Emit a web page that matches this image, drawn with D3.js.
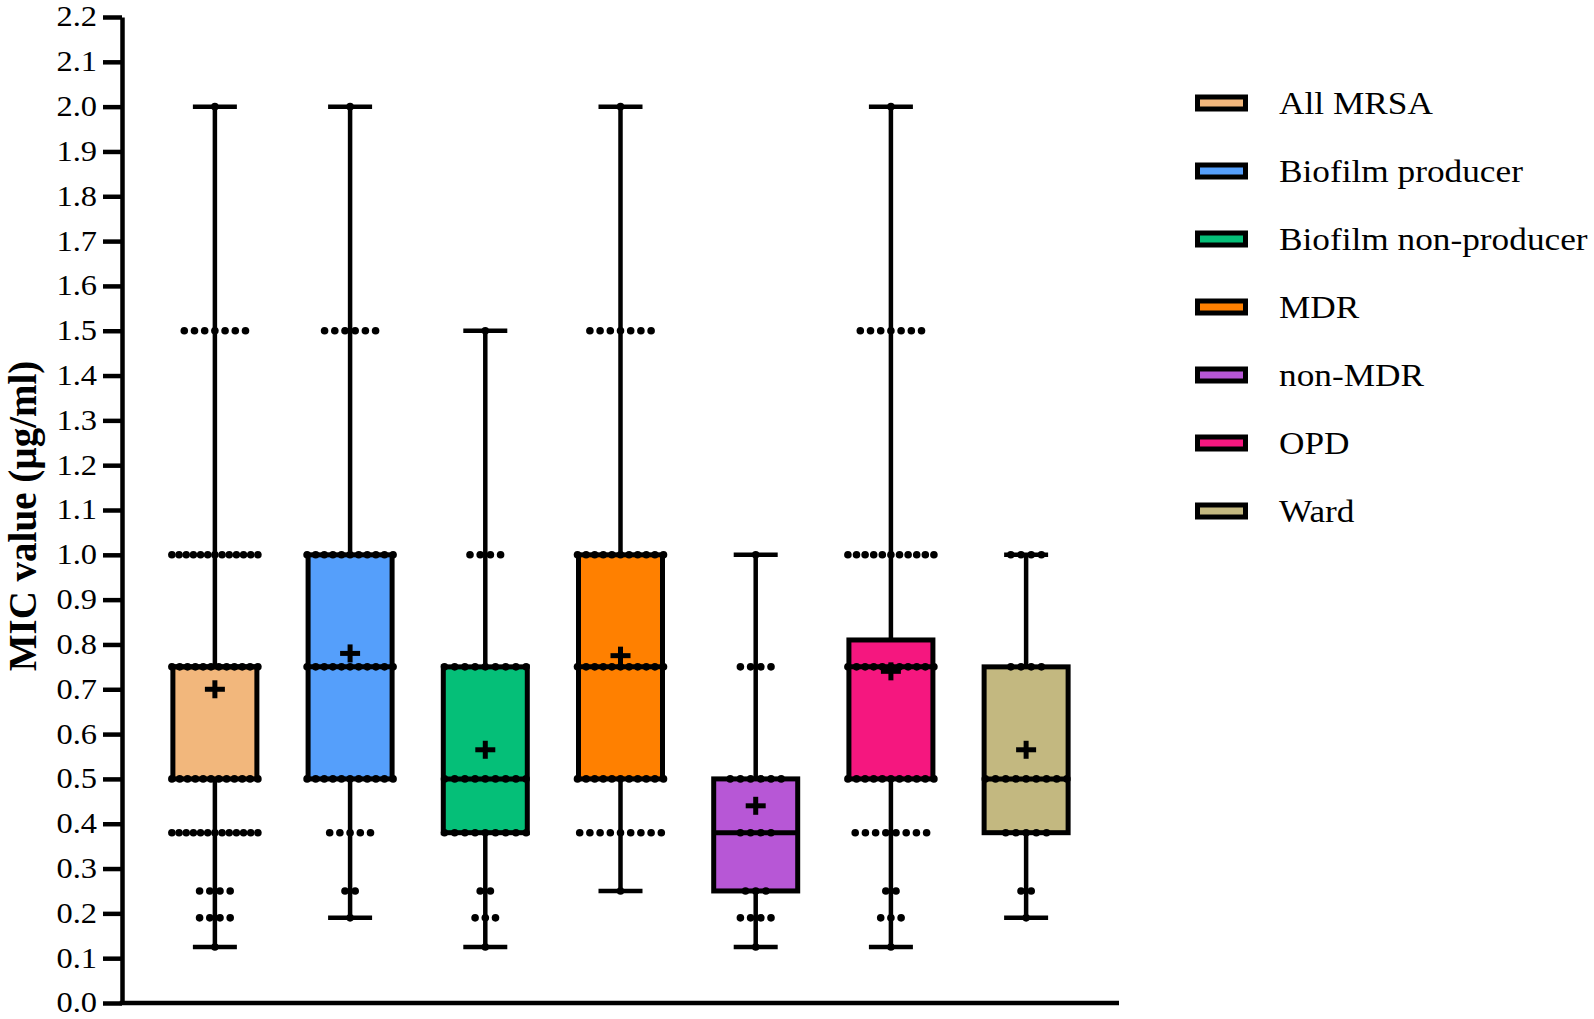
<!DOCTYPE html>
<html>
<head>
<meta charset="utf-8">
<script src="https://cdn.jsdelivr.net/npm/d3@7"></script>
<style>
  html, body { margin: 0; padding: 0; background: #fff; }
  svg { display: block; }
  text { font-family: "Liberation Serif", "Times New Roman", serif; fill: #000; }
</style>
</head>
<body>
<svg id="chart" width="1594" height="1019"></svg>
<script>
// ---------- data ----------
const categories = ["All MRSA", "Biofilm producer", "Biofilm non-producer", "MDR", "non-MDR", "OPD", "Ward"];
const colors = ["#F2B77C", "#559FFB", "#05BF78", "#FF8000", "#B757D6", "#F5177F", "#C3B880"];
const minVals    = [0.125, 0.19, 0.125, 0.25, 0.125, 0.125, 0.19];
const q1Vals     = [0.5,   0.5,  0.38,  0.5,  0.25,  0.5,   0.38];
const medianVals = [0.75,  0.75, 0.5,   0.75, 0.38,  0.75,  0.5];
const q3Vals     = [0.75,  1.0,  0.75,  1.0,  0.5,   0.81,  0.75];
const maxVals    = [2.0,   2.0,  1.5,   2.0,  1.0,   2.0,   1.0];
const meanVals   = [0.70,  0.78, 0.565, 0.775, 0.44, 0.74,  0.565];
// individual MIC levels and number of isolates plotted at each level
const micLevels = [0.125, 0.19, 0.25, 0.38, 0.5, 0.75, 1.0, 1.5, 2.0];
const countsAllMRSA   = [1, 4, 4, 13, 12, 12, 13, 7, 1];
const countsBioProd   = [0, 1, 2, 5, 11, 11, 11, 6, 1];
const countsBioNon    = [1, 3, 2, 9, 9, 9, 4, 1, 0];
const countsMDR       = [0, 0, 1, 9, 11, 11, 11, 7, 1];
const countsNonMDR    = [1, 4, 3, 4, 6, 4, 1, 0, 0];
const countsOPD       = [1, 3, 2, 8, 11, 11, 11, 7, 1];
const countsWard      = [0, 1, 2, 5, 9, 4, 4, 0, 0];
const pointCounts = [countsAllMRSA, countsBioProd, countsBioNon, countsMDR, countsNonMDR, countsOPD, countsWard];
const yTickValues = d3.range(0, 23).map(i => i / 10);
const yTitle = "MIC value (µg/ml)";

// ---------- layout ----------
const svg = d3.select("#chart");
const axisLeftX = 122, axisRightX = 1119, yTop = 17, yBottom = 1003;
const x = d3.scaleBand().domain(categories).range([axisLeftX, axisRightX]).paddingInner(0).paddingOuter(0.187);
const y = d3.scaleLinear().domain([0, 2.2]).range([yBottom, yTop]);
const cx = c => x(c) + x.bandwidth() / 2;
const boxHalf = 42, capHalf = 22, lw = 4.5, stretch = 1.12;

// y axis
const yAxis = svg.append("g").attr("transform", `translate(${axisLeftX},0)`)
  .call(d3.axisLeft(y).tickValues(yTickValues).tickSize(19).tickSizeOuter(0).tickPadding(6).tickFormat(d3.format(".1f")));
yAxis.select(".domain").attr("stroke", "#000").attr("stroke-width", lw);
yAxis.selectAll(".tick line").attr("stroke", "#000").attr("stroke-width", lw);
yAxis.selectAll(".tick text")
  .attr("x", 0)
  .attr("dy", "0.31em")
  .attr("transform", `translate(-25,0) scale(${stretch},1)`)
  .style("font-family", "Liberation Serif")
  .style("font-size", "29px");

// x axis line
svg.append("line")
  .attr("x1", axisLeftX - lw / 2).attr("x2", axisRightX)
  .attr("y1", y(0)).attr("y2", y(0))
  .attr("stroke", "#000").attr("stroke-width", lw);

// y title
svg.append("text")
  .attr("transform", `translate(36,${(y(0) + y(2.2)) / 2 + 6}) rotate(-90)`)
  .attr("text-anchor", "middle")
  .style("font-size", "39px").style("font-weight", "bold")
  .text(yTitle);

// ---------- boxes ----------
categories.forEach((c, i) => {
  const g = svg.append("g");
  const xc = cx(c);
  // whiskers
  g.append("line").attr("x1", xc).attr("x2", xc).attr("y1", y(minVals[i])).attr("y2", y(q1Vals[i]))
    .attr("stroke", "#000").attr("stroke-width", lw);
  g.append("line").attr("x1", xc).attr("x2", xc).attr("y1", y(q3Vals[i])).attr("y2", y(maxVals[i]))
    .attr("stroke", "#000").attr("stroke-width", lw);
  [minVals[i], maxVals[i]].forEach(v => {
    g.append("line").attr("x1", xc - capHalf).attr("x2", xc + capHalf).attr("y1", y(v)).attr("y2", y(v))
      .attr("stroke", "#000").attr("stroke-width", lw);
  });
  // box
  g.append("rect")
    .attr("x", xc - boxHalf).attr("width", boxHalf * 2)
    .attr("y", y(q3Vals[i])).attr("height", y(q1Vals[i]) - y(q3Vals[i]))
    .attr("fill", colors[i]).attr("stroke", "#000").attr("stroke-width", 5);
  // median
  g.append("line").attr("x1", xc - boxHalf).attr("x2", xc + boxHalf)
    .attr("y1", y(medianVals[i])).attr("y2", y(medianVals[i]))
    .attr("stroke", "#000").attr("stroke-width", 5);
  // points
  const pts = [];
  micLevels.forEach((lv, k) => {
    const n = pointCounts[i][k];
    if (!n) return;
    const sp = n > 1 ? Math.min(10.2, 86 / (n - 1)) : 0;
    for (let j = 0; j < n; j++) pts.push({ x: xc + (j - (n - 1) / 2) * sp, v: lv });
  });
  g.selectAll("circle.pt").data(pts).join("circle").attr("class", "pt")
    .attr("cx", d => d.x).attr("cy", d => y(d.v)).attr("r", 3.8).attr("fill", "#000");
  // mean cross
  const my = y(meanVals[i]);
  g.append("line").attr("x1", xc - 10).attr("x2", xc + 10).attr("y1", my).attr("y2", my)
    .attr("stroke", "#000").attr("stroke-width", 5);
  g.append("line").attr("x1", xc).attr("x2", xc).attr("y1", my - 9).attr("y2", my + 9)
    .attr("stroke", "#000").attr("stroke-width", 5);
});

// ---------- legend ----------
const legend = svg.append("g");
categories.forEach((c, i) => {
  const cy = 103 + i * 68;
  legend.append("rect").attr("x", 1197.5).attr("y", cy - 6).attr("width", 48).attr("height", 12)
    .attr("fill", colors[i]).attr("stroke", "#000").attr("stroke-width", 5);
  legend.append("text")
    .attr("transform", `translate(1279,${cy}) scale(${stretch},1)`)
    .attr("dy", "0.35em")
    .style("font-size", "31.5px")
    .text(c);
});
</script>
</body>
</html>
